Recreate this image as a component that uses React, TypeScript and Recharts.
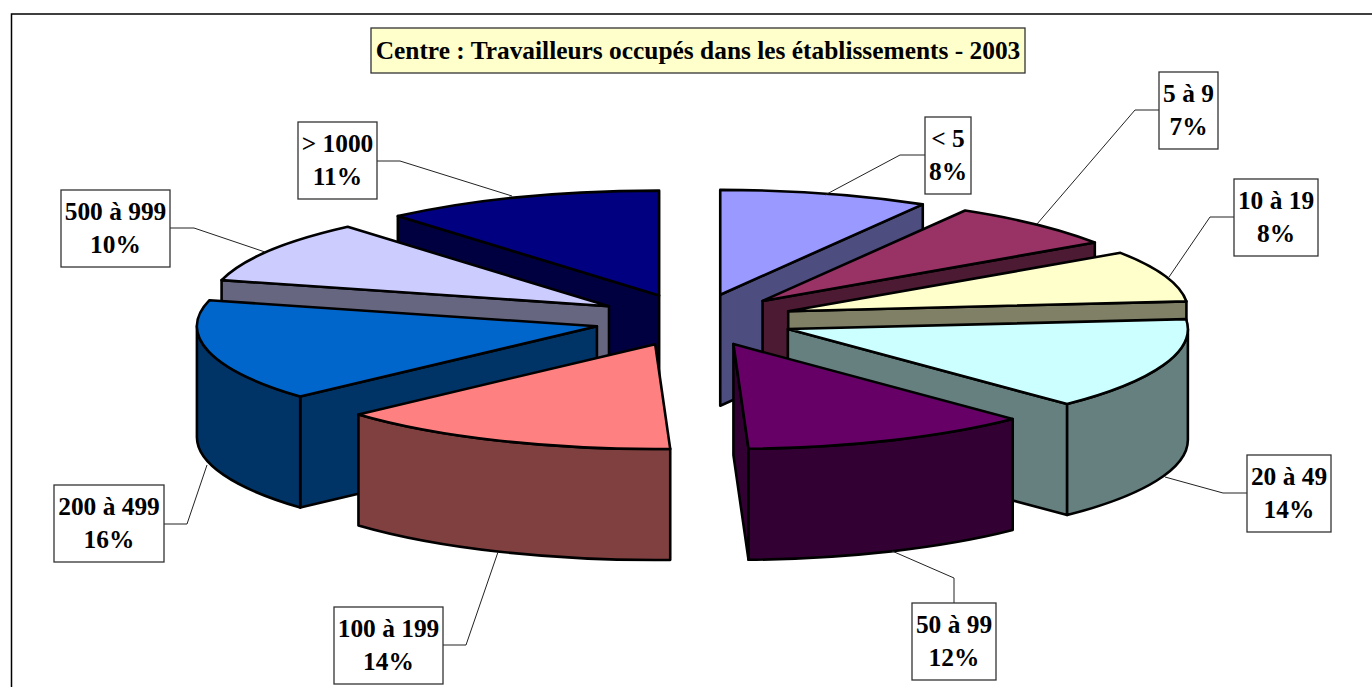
import { Pie, PieChart } from "recharts";

const categories = ["< 5", "5 à 9", "10 à 19", "20 à 49", "50 à 99", "100 à 199", "200 à 499", "500 à 999", "> 1000"];
const shares = [8.45, 7.15, 7.9, 14.2, 11.7, 13.9, 15.7, 9.67, 11.33];
const topColors = ["#9999FF", "#993366", "#FFFFCC", "#CCFFFF", "#660066", "#FF8080", "#0066CC", "#CCCCFF", "#000080"];
const sideColors = ["#4D4D80", "#4D1A33", "#808066", "#668080", "#330033", "#804040", "#003366", "#666680", "#000040"];

// back to front, so nearer slices cover the walls of the ones behind
const paintOrder = [8, 0, 1, 2, 7, 3, 6, 4, 5];

// label box [x, y, w, h] and leader line points, same order as categories
const labelBoxes = [
  [925, 117, 46, 77],
  [1159, 72, 59, 77],
  [1234, 179, 84, 77],
  [1247, 455, 84, 77],
  [912, 603, 84, 77],
  [334, 607, 109, 77],
  [54, 485, 110, 77],
  [61, 190, 109, 77],
  [298, 122, 79, 77],
];
const leaders = [
  "925,155 900,155 825,195",
  "1159,110 1135,110 1037,224",
  "1234,217 1210,217 1169,277",
  "1247,493 1223,493 1165,477",
  "954,603 954,578 892,551",
  "443,645 466,645 498,552",
  "164,524 187,524 207,465",
  "170,228 194,228 265,252",
  "377,161 400,161 512,196",
];

const CX = 694;
const CY = 320;
const RADIUS = 400;
const TILT = 0.262;
const DEPTH = 111;
const EXPLODE = 100;
const FONT = '"Liberation Serif", "Times New Roman", serif';
const FONT_SIZE = 25.4;

const rad = (d: number) => (d * Math.PI) / 180;

const SliceShape = (props: any) => {
  const { cx, cy, outerRadius: r, startAngle, endAngle, payload } = props;
  const i = payload.index;
  // recharts angles run counter clockwise from 3 o'clock, use clockwise from top here
  const t1 = 90 - startAngle;
  const t2 = 90 - endAngle;
  const mid = (t1 + t2) / 2;
  const ax = cx + EXPLODE * Math.sin(rad(mid));
  const ay = cy - EXPLODE * TILT * Math.cos(rad(mid));
  const ry = r * TILT;
  const pt = (t: number, dy = 0) =>
    `${ax + r * Math.sin(rad(t))} ${ay - ry * Math.cos(rad(t)) + dy}`;
  const arc = (t: number, sweep: number, dy = 0) => `A ${r} ${ry} 0 0 ${sweep} ${pt(t, dy)}`;
  const wall = (t: number) =>
    `M ${ax} ${ay} L ${pt(t)} L ${pt(t, DEPTH)} L ${ax} ${ay + DEPTH} Z`;

  const from = Math.max(t1, 90);
  const to = Math.min(t2, 270);
  const line = { stroke: "#000", strokeWidth: 2.6, strokeLinejoin: "round" as const };
  const side = sideColors[i];
  const [bx, by, bw, bh] = labelBoxes[i];
  const textProps = {
    x: bx + bw / 2,
    textAnchor: "middle" as const,
    fontFamily: FONT,
    fontSize: FONT_SIZE,
    fontWeight: "bold",
    fill: "#000",
  };

  return (
    <g>
      {Math.sin(rad(t1)) < 0 && <path d={wall(t1)} fill={side} {...line} />}
      {Math.sin(rad(t2)) > 0 && <path d={wall(t2)} fill={side} {...line} />}
      {from < to && (
        <path
          d={`M ${pt(from)} ${arc(to, 1)} L ${pt(to, DEPTH)} ${arc(from, 0, DEPTH)} Z`}
          fill={side}
          {...line}
        />
      )}
      <path d={`M ${ax} ${ay} L ${pt(t1)} ${arc(t2, 1)} Z`} fill={topColors[i]} {...line} />
      <polyline points={leaders[i]} fill="none" stroke="#222" strokeWidth={1} />
      <rect x={bx} y={by} width={bw} height={bh} fill="#fff" stroke="#333" strokeWidth={1.3} />
      <text {...textProps} y={by + 30}>{categories[i]}</text>
      <text {...textProps} y={by + 63}>{Math.round(shares[i])}%</text>
    </g>
  );
};

export default function App() {
  const total = shares.reduce((a, b) => a + b, 0);
  const starts = shares.map((_, i) => shares.slice(0, i).reduce((a, b) => a + b, 0));
  return (
    <div style={{ position: "absolute", left: 0, top: 0, width: 1372, height: 687, overflow: "hidden", background: "#fff" }}>
      <PieChart width={1372} height={687} margin={{ top: 0, right: 0, bottom: 0, left: 0 }}>
        <polyline points="11.5,687 11.5,14 1372,14" fill="none" stroke="#000" strokeWidth={1.5} />
        {paintOrder.map((i) => (
          <Pie
            key={categories[i]}
            data={[{ name: categories[i], value: shares[i], index: i }]}
            dataKey="value"
            nameKey="name"
            cx={CX}
            cy={CY}
            innerRadius={0}
            outerRadius={RADIUS}
            startAngle={90 - (starts[i] / total) * 360}
            endAngle={90 - ((starts[i] + shares[i]) / total) * 360}
            stroke="none"
            labelLine={false}
            shape={SliceShape}
            isAnimationActive={false}
          />
        ))}
        <rect x={371} y={28} width={654} height={45} fill="#FFFFCC" stroke="#333" strokeWidth={1.3} />
        <text x={698} y={59} textAnchor="middle" fontFamily={FONT} fontSize={FONT_SIZE} fontWeight="bold" fill="#000">
          Centre : Travailleurs occupés dans les établissements - 2003
        </text>
      </PieChart>
    </div>
  );
}
